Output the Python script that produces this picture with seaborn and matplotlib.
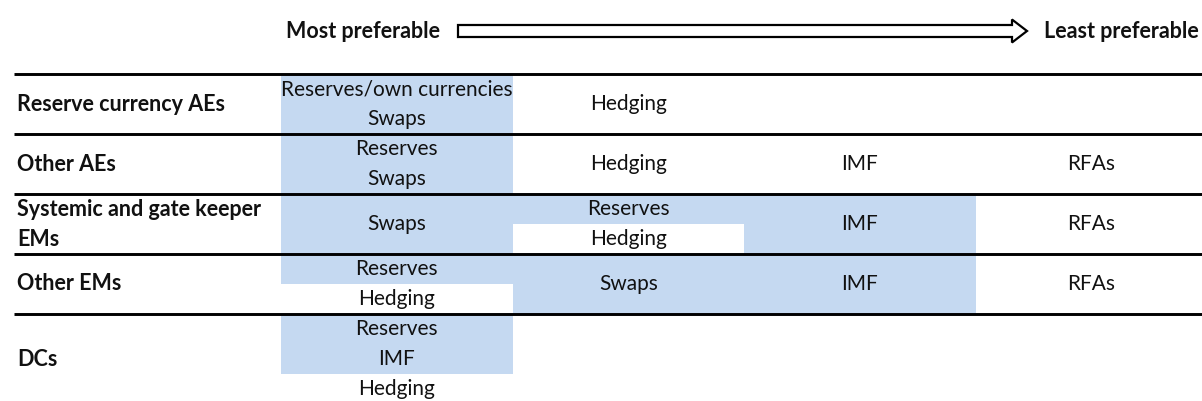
import numpy as np
import pandas as pd
import matplotlib.pyplot as plt
import seaborn as sns
from matplotlib.colors import ListedColormap
from matplotlib.patches import FancyArrow

# row groups (countries) and how many text lines each one takes
groups = ["Reserve currency AEs", "Other AEs", "Systemic and gate keeper\nEMs", "Other EMs", "DCs"]
group_lines = [2, 2, 2, 2, 3]

# one entry per text cell: group, column (1 = most preferable), first line, lines spanned, text, shaded?
cell_group = [0, 0, 0, 1, 1, 1, 1, 1, 2, 2, 2, 2, 2, 3, 3, 3, 3, 3, 4, 4, 4]
cell_col = [1, 1, 2, 1, 1, 2, 3, 4, 1, 2, 2, 3, 4, 1, 1, 2, 3, 4, 1, 1, 1]
cell_line = [0, 1, 0, 0, 1, 0, 0, 0, 0, 0, 1, 0, 0, 0, 1, 0, 0, 0, 0, 1, 2]
cell_span = [1, 1, 2, 1, 1, 2, 2, 2, 2, 1, 1, 2, 2, 1, 1, 2, 2, 2, 1, 1, 1]
cell_text = ["Reserves/own currencies", "Swaps", "Hedging",
             "Reserves", "Swaps", "Hedging", "IMF", "RFAs",
             "Swaps", "Reserves", "Hedging", "IMF", "RFAs",
             "Reserves", "Hedging", "Swaps", "IMF", "RFAs",
             "Reserves", "IMF", "Hedging"]
cell_shaded = [1, 1, 0, 1, 1, 0, 0, 0, 1, 1, 0, 1, 0, 1, 0, 1, 1, 0, 1, 1, 0]
n_cols = 4

scale_left = "Most preferable"
scale_right = "Least preferable"

sns.set_theme(style="white")
plt.rcParams["font.family"] = ["Lato", "DejaVu Sans"]
FS = 15
FS_B = 15.5

group_start = np.concatenate([[0], np.cumsum(group_lines)[:-1]])
n_lines = sum(group_lines)

# shading grid: one row per text line, one column per preference rank
shade = np.zeros((n_lines, n_cols))
for g, c, l, s, sh in zip(cell_group, cell_col, cell_line, cell_span, cell_shaded):
    if sh:
        r0 = group_start[g] + l
        shade[r0:r0 + s, c - 1] = 1
shade = pd.DataFrame(shade)

fig = plt.figure(figsize=(12.02, 4.01), dpi=100)
ax = fig.add_axes([281 / 1202, 0, 926 / 1202, 327 / 401])
sns.heatmap(shade, mask=shade == 0, cmap=ListedColormap(["#c5d9f1"]), cbar=False,
            xticklabels=False, yticklabels=False, linewidths=0, ax=ax)
ax.set_xlim(0, n_cols)
ax.set_ylim(327 / 30, 0)
ax.set_axis_off()

# cell texts
for g, c, l, s, t in zip(cell_group, cell_col, cell_line, cell_span, cell_text):
    y = group_start[g] + l + s / 2
    ax.text(c - 0.5, y, t, ha="center", va="center", fontsize=FS, color="#111111")

# row group labels and separators
x_line = -267 / 231.5
for g, name in enumerate(groups):
    parts = name.split("\n")
    yc = group_start[g] + group_lines[g] / 2
    for k, p in enumerate(parts):
        ax.text(x_line + 3 / 231.5, yc + k - (len(parts) - 1) / 2, p, ha="left", va="center",
                fontsize=FS_B, fontweight="bold", color="#111111")
ax.hlines(group_start, x_line, n_cols, colors="black", lw=2.1, clip_on=False, zorder=5)

# preference scale on top
arrow = FancyArrow(4.58, 3.70, 5.69, 0, width=0.12, head_width=0.23, head_length=0.15,
                   length_includes_head=True, transform=fig.dpi_scale_trans,
                   facecolor="white", edgecolor="black", lw=1.6)
fig.add_artist(arrow)
fig.text(4.40, 3.70, scale_left, transform=fig.dpi_scale_trans, ha="right", va="center",
         fontsize=FS_B, fontweight="bold", color="#111111")
fig.text(10.44, 3.70, scale_right, transform=fig.dpi_scale_trans, ha="left", va="center",
         fontsize=FS_B, fontweight="bold", color="#111111")

fig.savefig("out.png", dpi=100)
